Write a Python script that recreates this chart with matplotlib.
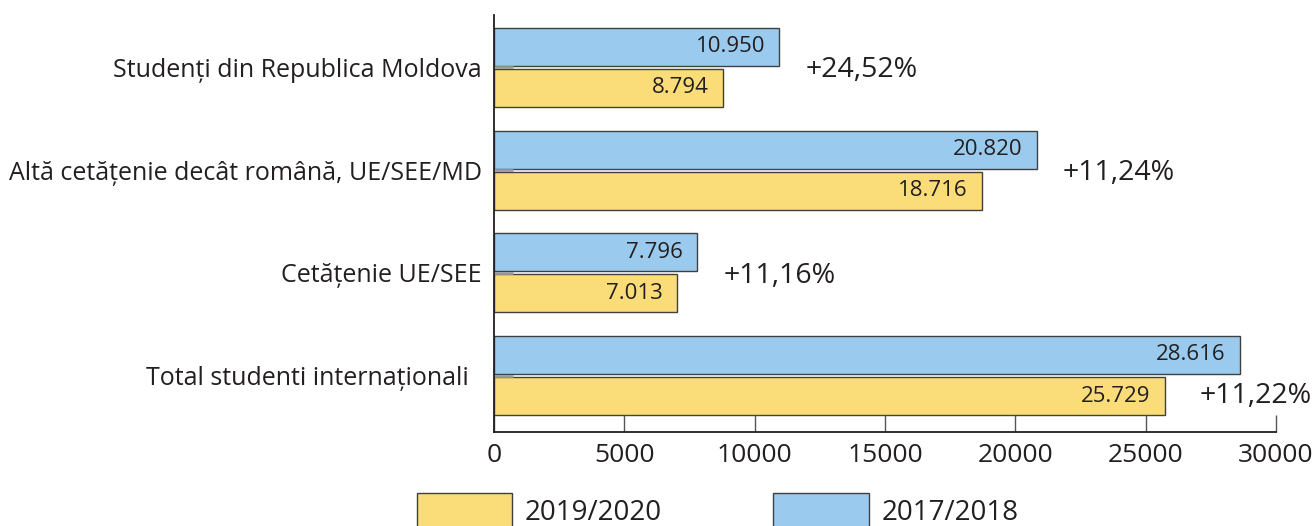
import numpy as np
import matplotlib.pyplot as plt

plt.rcParams['font.family'] = ['Open Sans', 'DejaVu Sans']

# data
categories = ['Studenți din Republica Moldova',
              'Altă cetățenie decât română, UE/SEE/MD',
              'Cetățenie UE/SEE',
              'Total studenti internaționali\u00a0\u00a0']
vals_1718 = [10950, 20820, 7796, 28616]
vals_1920 = [8794, 18716, 7013, 25729]
lbl_1718 = ['10.950', '20.820', '7.796', '28.616']
lbl_1920 = ['8.794', '18.716', '7.013', '25.729']
growth = ['+24,52%', '+11,24%', '+11,16%', '+11,22%']
xticks = [0, 5000, 10000, 15000, 20000, 25000, 30000]

blue = '#9acbee'
yellow = '#fadc78'
edge = '#404040'
txt = '#231f20'

fig = plt.figure(figsize=(13.14, 5.26), dpi=100)
ax = fig.add_axes([0.376, 0.1787, 0.595, 0.7928])

y = np.arange(len(categories))
h = 0.37
ax.barh(y - 0.2, vals_1718, height=h, color=blue, edgecolor=edge, linewidth=1.0, label='2017/2018')
ax.barh(y + 0.2, vals_1920, height=h, color=yellow, edgecolor=edge, linewidth=1.0, label='2019/2020')

for i in range(len(categories)):
    ax.text(vals_1718[i] - 550, y[i] - 0.2, lbl_1718[i], ha='right', va='center',
            fontsize=16, color=txt)
    ax.text(vals_1920[i] - 550, y[i] + 0.2, lbl_1920[i], ha='right', va='center',
            fontsize=16, color=txt)
    if i < len(categories) - 1:
        gx = max(vals_1718[i], vals_1920[i]) + 1000
        gy = y[i] + 0.03
    else:
        gx = vals_1920[i] + 1350
        gy = y[i] + 0.2
    ax.text(gx, gy, growth[i], ha='left', va='center', fontsize=20.5, color=txt)

ax.set_xlim(0, 30000)
ax.set_ylim(3.55, -0.51)
ax.set_xticks(xticks)
ax.set_xticklabels([str(t) for t in xticks])
ax.set_yticks(y)
ax.set_yticklabels(categories)

for s in ['top', 'right']:
    ax.spines[s].set_visible(False)
for s in ['left', 'bottom']:
    ax.spines[s].set_linewidth(1.3)
    ax.spines[s].set_color('#231f20')

ax.tick_params(axis='x', direction='in', length=12, width=1.0, color='#555555',
               labelsize=19, labelcolor=txt, pad=8)
ax.tick_params(axis='y', direction='in', length=14, width=2.0, color='#9a9a9a',
               labelsize=18, labelcolor=txt, pad=9)

handles, labels = ax.get_legend_handles_labels()
leg = fig.legend(handles[::-1], labels[::-1], loc='lower left', bbox_to_anchor=(0.298, -0.05),
                 ncol=2, frameon=False, fontsize=20, handlelength=3.45, handleheight=1.5,
                 columnspacing=4.0, handletextpad=0.45)
for t in leg.get_texts():
    t.set_color(txt)

fig.savefig('out.png', dpi=100)
